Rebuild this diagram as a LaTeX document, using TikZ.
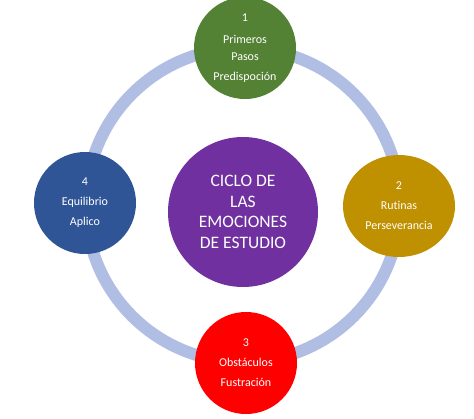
\documentclass[tikz,border=0pt]{standalone}
\usepackage{fontspec}
\usetikzlibrary{shapes.geometric}
\setmainfont[Ligatures=NoCommon]{Carlito}
\definecolor{ringc}{HTML}{B0BEE3}
\definecolor{greenc}{HTML}{548235}
\definecolor{goldc}{HTML}{BF9000}
\definecolor{redc}{HTML}{FF0000}
\definecolor{bluec}{HTML}{2F5597}
\definecolor{purplec}{HTML}{7030A0}
\begin{document}
\begin{tikzpicture}[x=1pt,y=-1pt,
  stage/.style={circle,minimum size=102pt,inner sep=0pt,text=white,align=center,
    font=\fontsize{12}{20}\selectfont},
  hub/.style={circle,minimum size=150pt,inner sep=0pt,text=white,align=center,
    font=\fontsize{17.5}{20.5}\selectfont}]
\useasboundingbox (0,0) rectangle (474,418);
\fill[white] (0,0) rectangle (474,418);
\coordinate (c) at (243,205);
\draw[ringc,line width=12pt] (c) circle[radius=157];
\node[hub,fill=purplec] (hub) at (243,212) {CICLO DE\\LAS\\EMOCIONES\\DE ESTUDIO};
\node[stage,fill=greenc] (s1) at (245,48) {1\\[2pt]Primeros\\[-3pt]Pasos\\Predispoción};
\node[stage,fill=goldc,ellipse,minimum width=112pt,minimum height=102pt] (s2) at (399,206) {2\\Rutinas\\Perseverancia};
\node[stage,fill=redc] (s3) at (246,363) {3\\Obstáculos\\Fustración};
\node[stage,fill=bluec] (s4) at (85,203) {4\\Equilibrio\\Aplico};
\end{tikzpicture}
\end{document}
